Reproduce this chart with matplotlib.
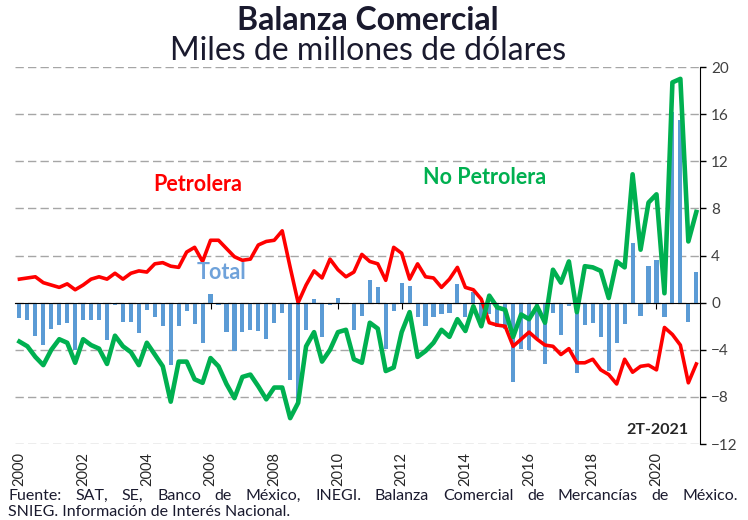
import numpy as np
import matplotlib
matplotlib.use("Agg")
import matplotlib.pyplot as plt

plt.rcParams['font.family'] = ['Lato', 'DejaVu Sans']

# Balanza comercial trimestral, 1T-2000 a 2T-2021 (miles de millones de dolares)
petrolera = [2.0, 2.1, 2.2, 1.7, 1.5, 1.3, 1.6, 1.1, 1.5, 2.0,
             2.2, 2.0, 2.5, 2.0, 2.5, 2.7, 2.6, 3.3, 3.4, 3.1,
             3.0, 4.3, 4.7, 3.5, 5.3, 5.3, 4.6, 3.9, 3.6, 3.7,
             4.9, 5.2, 5.3, 6.1, 3.0, 0.0, 1.5, 2.7, 2.1, 3.7,
             2.8, 2.2, 2.6, 4.1, 3.5, 3.3, 1.9, 4.7, 4.2, 2.0,
             3.3, 2.2, 2.1, 1.3, 2.0, 3.0, 1.3, 1.1, 0.3, -1.7,
             -1.9, -2.0, -3.7, -3.1, -2.5, -3.1, -3.6, -3.7, -4.4, -3.9,
             -5.1, -5.1, -4.8, -5.7, -6.1, -6.9, -4.8, -5.9, -5.4, -5.3,
             -5.7, -2.1, -2.7, -3.6, -6.8, -5.2]

no_petrolera = [-3.3, -3.7, -4.6, -5.3, -4.0, -3.1, -3.4, -5.1, -3.1, -3.6,
                -3.9, -5.2, -2.8, -3.7, -4.2, -5.3, -3.4, -4.4, -5.4, -8.4,
                -5.0, -5.0, -6.5, -6.8, -4.7, -5.4, -6.9, -8.1, -6.3, -6.1,
                -7.1, -8.2, -7.2, -7.2, -9.8, -8.5, -3.7, -2.5, -5.0, -4.0,
                -2.5, -2.3, -4.8, -5.1, -1.7, -2.2, -5.8, -5.5, -2.5, -0.8,
                -4.6, -4.1, -3.4, -2.3, -2.9, -1.4, -2.4, -0.3, -2.0, 0.6,
                -0.4, -0.6, -2.9, -1.0, -1.4, -0.3, -1.7, 2.8, 1.7, 3.5,
                -0.8, 3.1, 3.0, 2.7, 0.4, 3.5, 3.0, 10.9, 4.5, 8.5,
                9.2, 0.8, 18.7, 19.0, 5.2, 7.7]

total = [-1.3, -1.5, -2.8, -3.6, -2.2, -1.9, -1.7, -4.0, -1.5, -1.5,
         -1.5, -3.2, -0.2, -1.6, -1.6, -2.6, -0.6, -1.2, -2.0, -5.3,
         -2.0, -0.7, -1.8, -3.4, 0.7, -0.2, -2.5, -4.1, -2.5, -2.3,
         -2.4, -3.1, -1.7, -0.9, -6.6, -8.6, -2.3, 0.3, -2.9, -0.2,
         0.4, -0.1, -2.3, -1.1, 1.9, 1.3, -3.9, -0.7, 1.7, 1.4,
         -1.2, -2.0, -1.2, -1.0, -0.9, 1.6, -1.2, 0.9, -1.8, -1.0,
         -2.1, -2.2, -6.7, -3.9, -4.0, -3.0, -5.2, -0.9, -2.7, -0.3,
         -6.0, -1.9, -1.7, -2.9, -5.8, -3.4, -1.8, 5.1, -1.1, 3.1,
         3.6, -1.2, 16.2, 15.5, -1.6, 2.6]

anios = list(range(2000, 2021, 2))
yticks = list(range(-12, 21, 4))

x = 2000 + np.arange(len(total)) / 4

fig = plt.figure(figsize=(7.48, 5.20), dpi=100)
ax = fig.add_axes([0.020, 0.146, 0.916, 0.725])

ax.bar(x, total, width=0.13, color='#5B9BD5', zorder=2)
ax.plot(x, petrolera, color='#FF0000', lw=2.6, zorder=3)
ax.plot(x, no_petrolera, color='#00B050', lw=3.3, zorder=4)

ax.set_xlim(1999.86, 2021.37)
ax.set_ylim(-12, 20)

# eje y a la derecha
ax.yaxis.tick_right()
ax.set_yticks(yticks)
ax.tick_params(axis='y', direction='out', length=4, width=1, pad=4,
               labelsize=11, labelcolor='#404040', color='black')
ax.yaxis.grid(True, linestyle=(0, (6, 3)), color='#A6A6A6', lw=1)
ax.set_axisbelow(True)
for s in ['left', 'top']:
    ax.spines[s].set_visible(False)
ax.spines['right'].set_color('black')

# eje x en cero, etiquetas abajo
ax.spines['bottom'].set_position(('data', 0))
ax.spines['bottom'].set_color('black')
ax.spines['bottom'].set_zorder(5)
ax.set_xticks(anios)
ax.tick_params(axis='x', direction='out', length=4, labelbottom=False)

sec = ax.secondary_xaxis('bottom')
sec.set_xticks(anios)
sec.set_xticklabels([str(a) for a in anios], rotation=90)
sec.tick_params(length=0, pad=6, labelsize=10.5, labelcolor='#262626')
sec.spines['bottom'].set_visible(False)

ax.text(2005.6, 10.0, 'Petrolera', color='#FF0000', fontsize=15.5,
        fontweight='bold', ha='center', va='center')
ax.text(2014.6, 10.6, 'No Petrolera', color='#00B050', fontsize=15.5,
        fontweight='bold', ha='center', va='center')
ax.text(2006.35, 2.6, 'Total', color='#6FA2DA', fontsize=15.5,
        fontweight='bold', ha='center', va='center')
ax.text(2021.0, -10.8, '2T-2021', color='#262626', fontsize=11.5,
        fontweight='bold', ha='right', va='center')

fig.text(0.492, 0.960, 'Balanza Comercial', ha='center', va='center',
         fontsize=23, fontweight='bold', color='#1A1A2E')
fig.text(0.492, 0.902, 'Miles de millones de dólares', ha='center', va='center',
         fontsize=23, color='#1A1A2E')


def justificar(linea, y, x0, x1, **kw):
    # texto justificado a lo ancho, como en la fuente original
    r = fig.canvas.get_renderer()
    palabras = linea.split()
    textos = [fig.text(0, y, p, va='center', ha='left', **kw) for p in palabras]
    anchos = [t.get_window_extent(r).width / fig.bbox.width for t in textos]
    hueco = (x1 - x0 - sum(anchos)) / (len(palabras) - 1)
    pos = x0
    for t, w in zip(textos, anchos):
        t.set_x(pos)
        pos += w + hueco


fig.canvas.draw()
justificar('Fuente: SAT, SE, Banco de México, INEGI. Balanza Comercial '
           'de Mercancías de México.', 0.046, 0.011, 0.987,
           fontsize=11.5, color='#1A1A2E')
fig.text(0.011, 0.015, 'SNIEG. Información de Interés Nacional.', ha='left',
         va='center', fontsize=11.5, color='#1A1A2E')

fig.savefig('out.png', dpi=100)
